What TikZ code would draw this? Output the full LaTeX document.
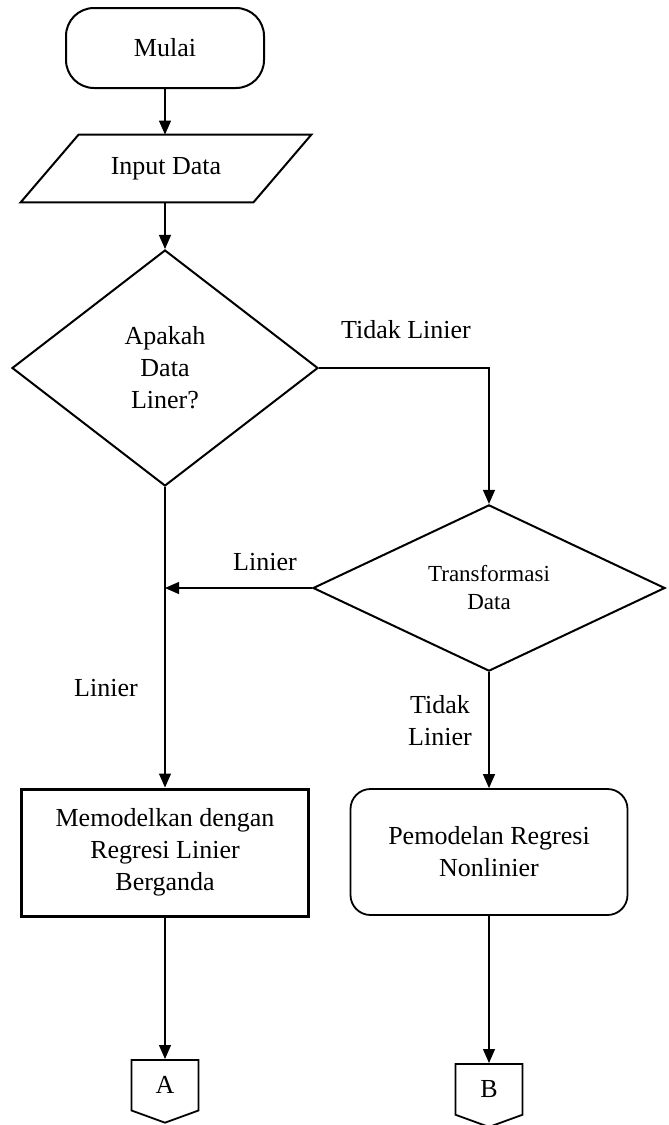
\documentclass[tikz,border=0pt]{standalone}
\usepackage{fontspec}
\setmainfont{Liberation Serif}
\usetikzlibrary{shapes.geometric,shapes.symbols,arrows.meta}

\tikzset{
  terminal/.style={rectangle,rounded corners=14pt,draw,line width=1pt,minimum width=99pt,minimum height=40pt},
  io/.style={rectangle,minimum width=116pt,minimum height=33.5pt,inner sep=0pt},
  decision/.style={diamond,draw,line width=1pt,inner sep=0pt,align=center},
  process/.style={rectangle,draw,line width=1.5pt,minimum width=143.5pt,minimum height=63.5pt,align=center},
  processround/.style={rectangle,rounded corners=10pt,draw,line width=0.9pt,minimum width=138.5pt,minimum height=63pt,align=center},
  offpage/.style={signal,signal to=south,signal pointer angle=140,draw,line width=0.9pt,minimum width=33.5pt,minimum height=27pt,inner sep=0pt},
  arr/.style={-{Triangle[width=6pt,length=7pt]},line width=0.6pt}
}

\begin{document}
\begin{tikzpicture}[x=0.5pt,y=-0.5pt,font=\fontsize{13pt}{16pt}\selectfont]
  \useasboundingbox (0,0) rectangle (669,1125);
  % simbol alur
  \node[terminal] (mulai) at (165,48) {Mulai};
  \node[io] (input) at (166,168.5) {Input Data};
  \draw[line width=1pt] ([xshift=14.5pt]input.north west) -- ([xshift=14.5pt]input.north east)
    -- ([xshift=-14.5pt]input.south east) -- ([xshift=-14.5pt]input.south west) -- cycle;
  \node[decision,minimum width=153pt,minimum height=118pt] (cek) at (165,368) {Apakah\\Data\\Liner?};
  \node[decision,minimum width=176pt,minimum height=75pt,font=\fontsize{11.5pt}{14pt}\selectfont] (transf) at (489,588) {Transformasi\\Data};
  \node[process] (linier) at (165,852.5) {Memodelkan dengan\\Regresi Linier\\Berganda};
  \node[processround] (nonlinier) at (489,852) {Pemodelan Regresi\\Nonlinier};
  \node[offpage,anchor=north] (a) at (165,1059) {A};
  \node[offpage,anchor=north] (b) at (489,1063) {B};
  % label cabang
  \node (tdk1) at (406,330) {Tidak Linier};
  \node (lin1) at (265,562) {Linier};
  \node (lin2) at (106,688) {Linier};
  \node[align=center] (tdk2) at (440,721) {Tidak\\Linier};
  % garis alir
  \draw[arr] (mulai) -- (mulai |- input.north);
  \draw[arr] (input.south -| cek) -- (cek);
  \draw[arr] (cek.east) -| (transf.north);
  \draw[arr] (cek.south) -- (linier.north);
  \draw[arr] (transf.west) -- (transf.west -| cek.south);
  \draw[arr] (transf.south) -- (nonlinier.north);
  \draw[arr] (linier.south) -- (a.north);
  \draw[arr] (nonlinier.south) -- (b.north);
\end{tikzpicture}
\end{document}
